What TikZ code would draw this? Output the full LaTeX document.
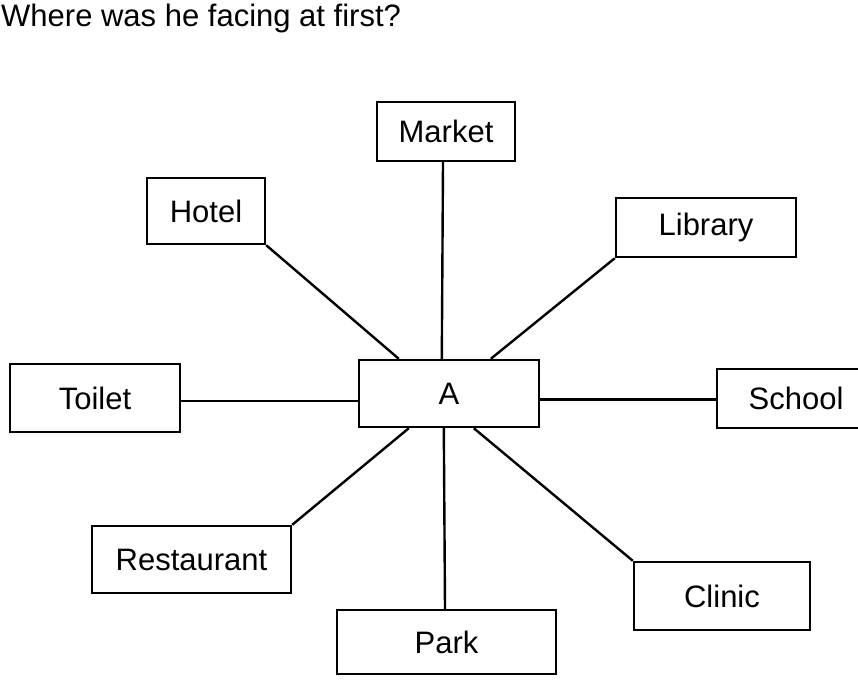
\documentclass[tikz,border=0pt]{standalone}
\usepackage{fontspec}
\setmainfont{Liberation Sans}
\begin{document}
\begin{tikzpicture}[x=1pt,y=-1pt,
  place/.style={draw=black, line width=2.4pt, inner sep=0pt, font=\fontsize{31}{36}\selectfont},
  link/.style={draw=black, line width=2.4pt}]
\clip (0,0) rectangle (858,683);
\fill[white] (0,0) rectangle (858,683);
\node[anchor=base west, inner sep=0pt, font=\fontsize{31}{36}\selectfont] (title) at (1,26) {Where was he facing at first?};
\node[place, minimum width=138pt, minimum height=59pt] (Market) at (446,131.5) {Market};
\node[place, minimum width=118pt, minimum height=66pt] (Hotel) at (206,211) {Hotel};
\node[place, minimum width=180pt, minimum height=59pt] (Library) at (706,227.5) {Library};
\node[place, minimum width=170pt, minimum height=68pt] (Toilet) at (95,398) {Toilet};
\node[place, minimum width=180pt, minimum height=67pt] (A) at (449,393.5) {A};
\node[place, minimum width=158pt, minimum height=59pt] (School) at (796,398.5) {School};
\node[place, minimum width=199pt, minimum height=67pt] (Restaurant) at (191.5,559.5) {Restaurant};
\node[place, minimum width=176pt, minimum height=68pt] (Clinic) at (722,596) {Clinic};
\node[place, minimum width=219pt, minimum height=64pt] (Park) at (446.5,642) {Park};
\draw[link] ([xshift=-3pt]Market.south) -- ([xshift=84pt]A.north west);
\draw[link] (Hotel.south east) -- ([xshift=41pt]A.north west);
\draw[link] (Library.south west) -- ([xshift=133pt]A.north west);
\draw[link] ([yshift=-3pt]Toilet.east) -- ([yshift=-3pt]Toilet.east -| A.west);
\draw[link] ([yshift=-1pt]School.west -| A.east) -- ([yshift=-1pt]School.west);
\draw[link] (Restaurant.north east) -- ([xshift=51pt]A.south west);
\draw[link] (Clinic.north west) -- ([xshift=116pt]A.south west);
\draw[link] ([xshift=86pt]A.south west) -- ([xshift=-1.5pt]Park.north);
\end{tikzpicture}
\end{document}
